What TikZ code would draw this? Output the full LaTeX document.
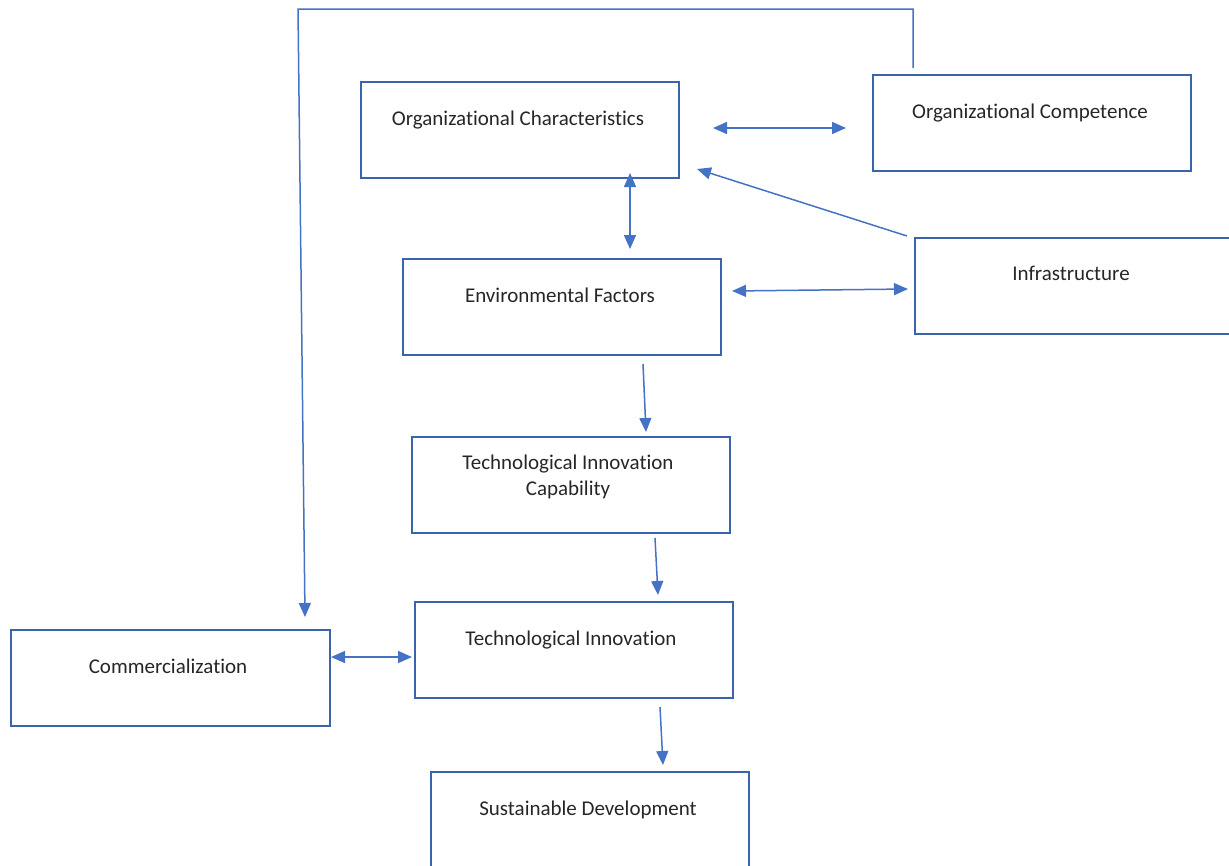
\documentclass[tikz,border=0pt]{standalone}
\usepackage{fontspec}
\setmainfont{Carlito}[RawFeature=-liga]
\usetikzlibrary{arrows.meta}
\definecolor{boxline}{HTML}{3A64AE}
\definecolor{arrline}{HTML}{4472C4}
\begin{document}
\begin{tikzpicture}[x=1pt,y=-1pt,
  box/.style={draw=boxline,line width=1.5pt,minimum width=318pt,minimum height=96pt,inner sep=0pt,anchor=north west},
  lbl/.style={anchor=base,font=\fontsize{21}{26}\selectfont,text=black!85,align=center,inner sep=0pt},
  conn/.style={draw=arrline,line width=1.5pt},
  tip/.style={-{Triangle[length=14pt,width=12pt]}},
  tips/.style={{Triangle[length=14pt,width=12pt]}-{Triangle[length=14pt,width=12pt]}}]
\useasboundingbox (0,0) rectangle (1229,865);
\begin{scope}
\clip (0,0) rectangle (1229,865);
% boxes
\node[box] (oc) at (360,81) {};
\node[box] (ocomp) at (872,74) {};
\node[box] (env) at (402,258) {};
\node[box,minimum width=320pt] (infra) at (914,237) {};
\node[box] (tic) at (411,436) {};
\node[box] (ti) at (414,601) {};
\node[box,minimum width=319pt] (com) at (10,629) {};
\node[box,minimum height=110pt] (sd) at (430,771) {};
\end{scope}
% labels
\node[lbl] (toc) at (518,125) {Organizational Characteristics};
\node[lbl] (tocomp) at (1030,118) {Organizational Competence};
\node[lbl] (tenv) at (560,302) {Environmental Factors};
\node[lbl] (tinfra) at (1071,280) {Infrastructure};
\node[lbl] (ttic1) at (568,469) {Technological Innovation};
\node[lbl] (ttic2) at (568,495) {Capability};
\node[lbl] (tti) at (571,645) {Technological Innovation};
\node[lbl] (tcom) at (168,673) {Commercialization};
\node[lbl] (tsd) at (588,815) {Sustainable Development};
% connector end points
\coordinate (a1) at (913,68);
\coordinate (a2) at (913,9);
\coordinate (a3) at (298,9);
\coordinate (a4) at (305,617);
\coordinate (b1) at (713,128);
\coordinate (b2) at (846,128);
\coordinate (c1) at (630,173);
\coordinate (c2) at (630,249);
\coordinate (d1) at (907,236);
\coordinate (d2) at (697,169);
\coordinate (e1) at (732,291);
\coordinate (e2) at (908,289);
\coordinate (f1) at (643,364);
\coordinate (f2) at (646,432);
\coordinate (g1) at (655,538);
\coordinate (g2) at (658,595);
\coordinate (h1) at (331,657);
\coordinate (h2) at (412,657);
\coordinate (k1) at (660,707);
\coordinate (k2) at (663,765);
% connectors
\draw[conn,tip] (a1) -- (a2) -- (a3) -- (a4);
\draw[conn,tips] (b1) -- (b2);
\draw[conn,tips] (c1) -- (c2);
\draw[conn,tip] (d1) -- (d2);
\draw[conn,tips] (e1) -- (e2);
\draw[conn,tip] (f1) -- (f2);
\draw[conn,tip] (g1) -- (g2);
\draw[conn,tips] (h1) -- (h2);
\draw[conn,tip] (k1) -- (k2);
\end{tikzpicture}
\end{document}
